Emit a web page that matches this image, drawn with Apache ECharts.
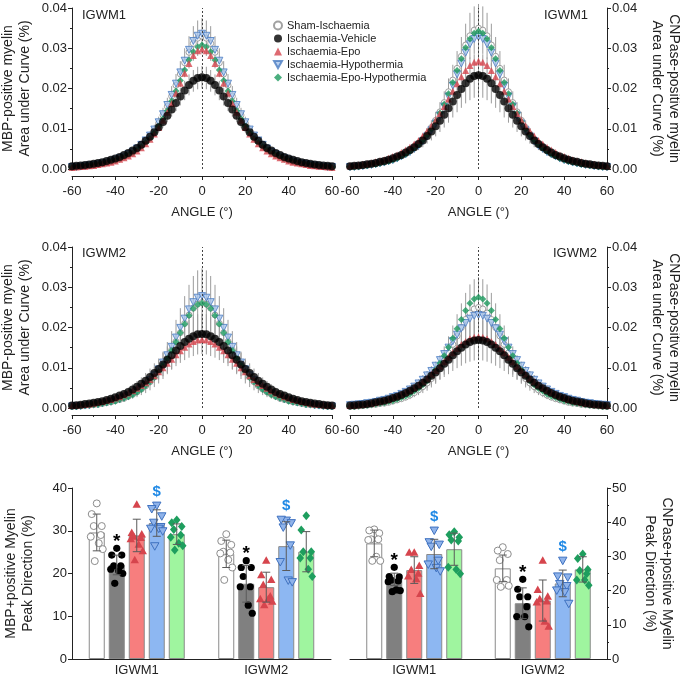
<!DOCTYPE html>
<html><head><meta charset="utf-8">
<script src="https://cdn.jsdelivr.net/npm/echarts/dist/echarts.min.js"></script>
<style>html,body{margin:0;padding:0;background:#fff}#c{width:680px;height:678px}</style>
</head><body><div id="c"></div>
<script>
// ---------- data ----------
const GROUPS = ['Sham-Ischaemia','Ischaemia-Vehicle','Ischaemia-Epo','Ischaemia-Hypothermia','Ischaemia-Epo-Hypothermia'];
const ANGLES = [-60,-58,-56,-54,-52,-50,-48,-46,-44,-42,-40,-38,-36,-34,-32,-30,-28,-26,-24,-22,-20,-18,-16,-14,-12,-10,-8,-6,-4,-2,0,2,4,6,8,10,12,14,16,18,20,22,24,26,28,30,32,34,36,38,40,42,44,46,48,50,52,54,56,58,60];

// MBP IGWM1
const MBP1_SHAM = [.0005,.0005,.0006,.0007,.0009,.0010,.0012,.0014,.0016,.0019,.0022,.0026,.0031,.0036,.0042,.0050,.0059,.0069,.0082,.0097,.0114,.0134,.0156,.0181,.0208,.0236,.0264,.0290,.0312,.0325,.0330,.0325,.0312,.0290,.0264,.0236,.0208,.0181,.0156,.0134,.0114,.0097,.0082,.0069,.0059,.0050,.0042,.0036,.0031,.0026,.0022,.0019,.0016,.0014,.0012,.0010,.0009,.0007,.0006,.0005,.0005];
const MBP1_VEH = [.0007,.0008,.0009,.0010,.0011,.0013,.0015,.0017,.0020,.0023,.0026,.0030,.0035,.0040,.0046,.0052,.0060,.0070,.0080,.0091,.0104,.0117,.0132,.0148,.0164,.0180,.0195,.0209,.0219,.0226,.0228,.0226,.0219,.0209,.0195,.0180,.0164,.0148,.0132,.0117,.0104,.0091,.0080,.0070,.0060,.0052,.0046,.0040,.0035,.0030,.0026,.0023,.0020,.0017,.0015,.0013,.0011,.0010,.0009,.0008,.0007];
const MBP1_EPO = [.0004,.0005,.0006,.0007,.0008,.0009,.0011,.0013,.0015,.0017,.0020,.0024,.0028,.0032,.0038,.0045,.0053,.0063,.0074,.0087,.0103,.0121,.0141,.0163,.0188,.0213,.0238,.0262,.0282,.0294,.0298,.0294,.0282,.0262,.0238,.0213,.0188,.0163,.0141,.0121,.0103,.0087,.0074,.0063,.0053,.0045,.0038,.0032,.0028,.0024,.0020,.0017,.0015,.0013,.0011,.0009,.0008,.0007,.0006,.0005,.0004];
const MBP1_HYPO = [.0005,.0005,.0006,.0007,.0009,.0010,.0012,.0014,.0016,.0019,.0023,.0027,.0031,.0037,.0043,.0051,.0060,.0071,.0083,.0098,.0116,.0136,.0159,.0184,.0212,.0240,.0269,.0296,.0318,.0331,.0336,.0331,.0318,.0296,.0269,.0240,.0212,.0184,.0159,.0136,.0116,.0098,.0083,.0071,.0060,.0051,.0043,.0037,.0031,.0027,.0023,.0019,.0016,.0014,.0012,.0010,.0009,.0007,.0006,.0005,.0005];
const MBP1_EH = [.0004,.0005,.0006,.0007,.0008,.0010,.0011,.0013,.0015,.0018,.0021,.0024,.0029,.0034,.0039,.0047,.0055,.0065,.0076,.0090,.0106,.0125,.0145,.0169,.0194,.0220,.0246,.0271,.0291,.0303,.0308,.0303,.0291,.0271,.0246,.0220,.0194,.0169,.0145,.0125,.0106,.0090,.0076,.0065,.0055,.0047,.0039,.0034,.0029,.0024,.0021,.0018,.0015,.0013,.0011,.0010,.0008,.0007,.0006,.0005,.0004];
const MBP1_SHAM_SD = [.0001,.0001,.0001,.0001,.0001,.0001,.0002,.0002,.0002,.0003,.0003,.0004,.0004,.0005,.0006,.0007,.0008,.0009,.0011,.0013,.0016,.0018,.0021,.0025,.0028,.0032,.0036,.0040,.0043,.0044,.0045,.0044,.0043,.0040,.0036,.0032,.0028,.0025,.0021,.0018,.0016,.0013,.0011,.0009,.0008,.0007,.0006,.0005,.0004,.0004,.0003,.0003,.0002,.0002,.0002,.0001,.0001,.0001,.0001,.0001,.0001];
const MBP1_VEH_SD = [.0001,.0001,.0001,.0001,.0001,.0002,.0002,.0002,.0002,.0003,.0003,.0004,.0004,.0005,.0006,.0006,.0007,.0009,.0010,.0011,.0013,.0014,.0016,.0018,.0020,.0022,.0024,.0026,.0027,.0028,.0028,.0028,.0027,.0026,.0024,.0022,.0020,.0018,.0016,.0014,.0013,.0011,.0010,.0009,.0007,.0006,.0006,.0005,.0004,.0004,.0003,.0003,.0002,.0002,.0002,.0002,.0001,.0001,.0001,.0001,.0001];

// CNPase IGWM1
const CNP1_SHAM = [.0005,.0006,.0007,.0008,.0009,.0011,.0013,.0015,.0017,.0020,.0023,.0028,.0033,.0038,.0045,.0053,.0062,.0074,.0087,.0103,.0121,.0142,.0165,.0192,.0221,.0250,.0280,.0308,.0331,.0345,.0350,.0345,.0331,.0308,.0280,.0250,.0221,.0192,.0165,.0142,.0121,.0103,.0087,.0074,.0062,.0053,.0045,.0038,.0033,.0028,.0023,.0020,.0017,.0015,.0013,.0011,.0009,.0008,.0007,.0006,.0005];
const CNP1_VEH = [.0007,.0008,.0009,.0010,.0012,.0013,.0015,.0018,.0020,.0023,.0027,.0031,.0035,.0041,.0047,.0054,.0062,.0071,.0082,.0093,.0106,.0120,.0135,.0151,.0168,.0184,.0199,.0213,.0224,.0231,.0233,.0231,.0224,.0213,.0199,.0184,.0168,.0151,.0135,.0120,.0106,.0093,.0082,.0071,.0062,.0054,.0047,.0041,.0035,.0031,.0027,.0023,.0020,.0018,.0015,.0013,.0012,.0010,.0009,.0008,.0007];
const CNP1_EPO = [.0008,.0009,.0010,.0012,.0013,.0015,.0018,.0020,.0023,.0027,.0031,.0035,.0041,.0047,.0054,.0062,.0071,.0082,.0094,.0107,.0122,.0138,.0155,.0174,.0193,.0212,.0229,.0245,.0257,.0265,.0268,.0265,.0257,.0245,.0229,.0212,.0193,.0174,.0155,.0138,.0122,.0107,.0094,.0082,.0071,.0062,.0054,.0047,.0041,.0035,.0031,.0027,.0023,.0020,.0018,.0015,.0013,.0012,.0010,.0009,.0008];
const CNP1_HYPO = [.0005,.0005,.0006,.0007,.0009,.0010,.0012,.0014,.0016,.0019,.0022,.0026,.0031,.0036,.0042,.0050,.0058,.0069,.0081,.0096,.0113,.0133,.0155,.0180,.0207,.0235,.0262,.0289,.0310,.0323,.0328,.0323,.0310,.0289,.0262,.0235,.0207,.0180,.0155,.0133,.0113,.0096,.0081,.0069,.0058,.0050,.0042,.0036,.0031,.0026,.0022,.0019,.0016,.0014,.0012,.0010,.0009,.0007,.0006,.0005,.0005];
const CNP1_EH = [.0005,.0005,.0006,.0008,.0009,.0011,.0012,.0014,.0017,.0019,.0023,.0027,.0032,.0037,.0044,.0052,.0061,.0072,.0085,.0100,.0118,.0139,.0161,.0187,.0215,.0245,.0274,.0301,.0323,.0337,.0342,.0337,.0323,.0301,.0274,.0245,.0215,.0187,.0161,.0139,.0118,.0100,.0085,.0072,.0061,.0052,.0044,.0037,.0032,.0027,.0023,.0019,.0017,.0014,.0012,.0011,.0009,.0008,.0006,.0005,.0005];
const CNP1_SHAM_SD = [.0001,.0001,.0001,.0001,.0002,.0002,.0002,.0003,.0003,.0003,.0004,.0005,.0006,.0007,.0008,.0009,.0011,.0013,.0015,.0018,.0021,.0024,.0028,.0033,.0038,.0043,.0048,.0053,.0057,.0059,.0060,.0059,.0057,.0053,.0048,.0043,.0038,.0033,.0028,.0024,.0021,.0018,.0015,.0013,.0011,.0009,.0008,.0007,.0006,.0005,.0004,.0003,.0003,.0003,.0002,.0002,.0002,.0001,.0001,.0001,.0001];
const CNP1_VEH_SD = [.0002,.0002,.0002,.0002,.0003,.0003,.0004,.0004,.0005,.0006,.0006,.0007,.0008,.0010,.0011,.0013,.0015,.0017,.0019,.0022,.0025,.0028,.0032,.0036,.0040,.0043,.0047,.0050,.0053,.0054,.0055,.0054,.0053,.0050,.0047,.0043,.0040,.0036,.0032,.0028,.0025,.0022,.0019,.0017,.0015,.0013,.0011,.0010,.0008,.0007,.0006,.0006,.0005,.0004,.0004,.0003,.0003,.0002,.0002,.0002,.0002];

// MBP IGWM2
const MBP2_SHAM = [.0004,.0004,.0005,.0006,.0007,.0008,.0009,.0011,.0013,.0015,.0018,.0021,.0024,.0029,.0034,.0040,.0047,.0055,.0065,.0077,.0090,.0106,.0124,.0144,.0165,.0187,.0210,.0231,.0248,.0258,.0262,.0258,.0248,.0231,.0210,.0187,.0165,.0144,.0124,.0106,.0090,.0077,.0065,.0055,.0047,.0040,.0034,.0029,.0024,.0021,.0018,.0015,.0013,.0011,.0009,.0008,.0007,.0006,.0005,.0004,.0004];
const MBP2_VEH = [.0006,.0007,.0008,.0010,.0011,.0013,.0015,.0017,.0020,.0023,.0027,.0031,.0035,.0040,.0046,.0053,.0060,.0068,.0077,.0087,.0097,.0108,.0120,.0131,.0143,.0154,.0164,.0172,.0178,.0183,.0184,.0183,.0178,.0172,.0164,.0154,.0143,.0131,.0120,.0108,.0097,.0087,.0077,.0068,.0060,.0053,.0046,.0040,.0035,.0031,.0027,.0023,.0020,.0017,.0015,.0013,.0011,.0010,.0008,.0007,.0006];
const MBP2_EPO = [.0006,.0007,.0008,.0009,.0010,.0012,.0014,.0016,.0019,.0021,.0025,.0028,.0033,.0037,.0043,.0049,.0056,.0063,.0071,.0080,.0090,.0100,.0111,.0121,.0132,.0142,.0151,.0159,.0165,.0169,.0170,.0169,.0165,.0159,.0151,.0142,.0132,.0121,.0111,.0100,.0090,.0080,.0071,.0063,.0056,.0049,.0043,.0037,.0033,.0028,.0025,.0021,.0019,.0016,.0014,.0012,.0010,.0009,.0008,.0007,.0006];
const MBP2_HYPO = [.0004,.0004,.0005,.0006,.0007,.0009,.0010,.0012,.0014,.0016,.0019,.0022,.0026,.0030,.0036,.0042,.0049,.0058,.0069,.0081,.0096,.0113,.0131,.0152,.0175,.0199,.0222,.0245,.0263,.0274,.0278,.0274,.0263,.0245,.0222,.0199,.0175,.0152,.0131,.0113,.0096,.0081,.0069,.0058,.0049,.0042,.0036,.0030,.0026,.0022,.0019,.0016,.0014,.0012,.0010,.0009,.0007,.0006,.0005,.0004,.0004];
const MBP2_EH = [.0004,.0004,.0005,.0006,.0007,.0008,.0009,.0011,.0013,.0015,.0017,.0021,.0024,.0028,.0033,.0039,.0046,.0055,.0065,.0076,.0090,.0106,.0123,.0143,.0164,.0187,.0209,.0230,.0247,.0257,.0261,.0257,.0247,.0230,.0209,.0187,.0164,.0143,.0123,.0106,.0090,.0076,.0065,.0055,.0046,.0039,.0033,.0028,.0024,.0021,.0017,.0015,.0013,.0011,.0009,.0008,.0007,.0006,.0005,.0004,.0004];
const MBP2_SHAM_SD = [.0001,.0001,.0002,.0002,.0002,.0003,.0003,.0004,.0004,.0005,.0006,.0007,.0008,.0009,.0011,.0013,.0015,.0018,.0021,.0025,.0029,.0034,.0040,.0047,.0054,.0061,.0068,.0075,.0080,.0084,.0085,.0084,.0080,.0075,.0068,.0061,.0054,.0047,.0040,.0034,.0029,.0025,.0021,.0018,.0015,.0013,.0011,.0009,.0008,.0007,.0006,.0005,.0004,.0004,.0003,.0003,.0002,.0002,.0002,.0001,.0001];
const MBP2_VEH_SD = [.0002,.0002,.0002,.0003,.0003,.0004,.0004,.0005,.0005,.0006,.0007,.0008,.0010,.0011,.0013,.0014,.0016,.0019,.0021,.0024,.0026,.0029,.0033,.0036,.0039,.0042,.0045,.0047,.0049,.0050,.0050,.0050,.0049,.0047,.0045,.0042,.0039,.0036,.0033,.0029,.0026,.0024,.0021,.0019,.0016,.0014,.0013,.0011,.0010,.0008,.0007,.0006,.0005,.0005,.0004,.0004,.0003,.0003,.0002,.0002,.0002];

// CNPase IGWM2
const CNP2_SHAM = [.0004,.0004,.0005,.0006,.0007,.0008,.0009,.0011,.0012,.0014,.0017,.0020,.0023,.0027,.0032,.0038,.0045,.0053,.0062,.0073,.0086,.0101,.0118,.0137,.0158,.0179,.0200,.0220,.0236,.0246,.0250,.0246,.0236,.0220,.0200,.0179,.0158,.0137,.0118,.0101,.0086,.0073,.0062,.0053,.0045,.0038,.0032,.0027,.0023,.0020,.0017,.0014,.0012,.0011,.0009,.0008,.0007,.0006,.0005,.0004,.0004];
const CNP2_VEH = [.0006,.0007,.0008,.0009,.0010,.0012,.0014,.0016,.0018,.0021,.0025,.0028,.0032,.0037,.0043,.0049,.0055,.0063,.0071,.0080,.0089,.0099,.0110,.0120,.0131,.0141,.0150,.0158,.0164,.0168,.0169,.0168,.0164,.0158,.0150,.0141,.0131,.0120,.0110,.0099,.0089,.0080,.0071,.0063,.0055,.0049,.0043,.0037,.0032,.0028,.0025,.0021,.0018,.0016,.0014,.0012,.0010,.0009,.0008,.0007,.0006];
const CNP2_EPO = [.0006,.0007,.0008,.0009,.0011,.0012,.0014,.0017,.0019,.0022,.0026,.0030,.0034,.0039,.0045,.0051,.0058,.0066,.0074,.0084,.0093,.0104,.0115,.0126,.0137,.0148,.0158,.0165,.0172,.0176,.0177,.0176,.0172,.0165,.0158,.0148,.0137,.0126,.0115,.0104,.0093,.0084,.0074,.0066,.0058,.0051,.0045,.0039,.0034,.0030,.0026,.0022,.0019,.0017,.0014,.0012,.0011,.0009,.0008,.0007,.0006];
const CNP2_HYPO = [.0007,.0008,.0009,.0010,.0012,.0013,.0015,.0018,.0020,.0023,.0027,.0030,.0035,.0040,.0046,.0053,.0061,.0070,.0081,.0092,.0105,.0119,.0134,.0150,.0166,.0182,.0198,.0211,.0222,.0229,.0231,.0229,.0222,.0211,.0198,.0182,.0166,.0150,.0134,.0119,.0105,.0092,.0081,.0070,.0061,.0053,.0046,.0040,.0035,.0030,.0027,.0023,.0020,.0018,.0015,.0013,.0012,.0010,.0009,.0008,.0007];
const CNP2_EH = [.0004,.0004,.0005,.0006,.0007,.0009,.0010,.0012,.0013,.0016,.0018,.0022,.0026,.0030,.0035,.0042,.0049,.0058,.0068,.0081,.0095,.0111,.0130,.0151,.0173,.0197,.0220,.0242,.0260,.0271,.0275,.0271,.0260,.0242,.0220,.0197,.0173,.0151,.0130,.0111,.0095,.0081,.0068,.0058,.0049,.0042,.0035,.0030,.0026,.0022,.0018,.0016,.0013,.0012,.0010,.0009,.0007,.0006,.0005,.0004,.0004];
const CNP2_SHAM_SD = [.0001,.0001,.0001,.0002,.0002,.0002,.0003,.0003,.0004,.0004,.0005,.0006,.0007,.0008,.0010,.0011,.0013,.0016,.0019,.0022,.0026,.0030,.0035,.0041,.0047,.0054,.0060,.0066,.0071,.0074,.0075,.0074,.0071,.0066,.0060,.0054,.0047,.0041,.0035,.0030,.0026,.0022,.0019,.0016,.0013,.0011,.0010,.0008,.0007,.0006,.0005,.0004,.0004,.0003,.0003,.0002,.0002,.0002,.0001,.0001,.0001];
const CNP2_VEH_SD = [.0002,.0002,.0002,.0003,.0003,.0004,.0004,.0005,.0005,.0006,.0007,.0008,.0010,.0011,.0013,.0014,.0016,.0019,.0021,.0024,.0026,.0029,.0033,.0036,.0039,.0042,.0045,.0047,.0049,.0050,.0050,.0050,.0049,.0047,.0045,.0042,.0039,.0036,.0033,.0029,.0026,.0024,.0021,.0019,.0016,.0014,.0013,.0011,.0010,.0008,.0007,.0006,.0005,.0005,.0004,.0004,.0003,.0003,.0002,.0002,.0002];

// Peak direction bar charts
const CATS = ['IGWM1','IGWM2'];
const MBP_MEAN_W1 = [29.6, 22.0, 28.9, 31.8, 29.2];
const MBP_SD_W1   = [4.3, 2.3, 3.8, 3.1, 2.4];
const MBP_MEAN_W2 = [24.6, 17.6, 16.8, 26.4, 25.1];
const MBP_SD_W2   = [3.2, 4.3, 3.5, 5.7, 4.7];
const CNP_MEAN_W1 = [33.8, 23.3, 26.0, 30.7, 32.1];
const CNP_SD_W1   = [3.9, 1.8, 3.9, 4.3, 4.7];
const CNP_MEAN_W2 = [26.5, 16.3, 17.1, 22.1, 26.2];
const CNP_SD_W2   = [3.9, 4.5, 6.0, 3.9, 3.7];

const MBP_PTS_W1 = [
  [36.4, 33.9, 31.1, 31.1, 29.0, 28.6, 27.1, 25.7, 22.9],
  [25.9, 24.3, 24.3, 21.8, 21.8, 21.0, 20.6, 20.0, 17.7],
  [36.1, 29.5, 29.1, 28.6, 28.3, 28.0, 26.7, 25.2, 23.1],
  [36.0, 35.2, 33.5, 32.0, 31.0, 30.6, 30.6, 30.0, 26.5],
  [32.5, 31.9, 31.0, 30.3, 29.0, 28.5, 27.1, 26.5, 25.5]
];
const MBP_PTS_W2 = [
  [29.2, 27.6, 26.7, 25.1, 24.9, 24.7, 23.2, 21.4, 18.5],
  [23.0, 21.4, 21.4, 19.3, 16.9, 16.9, 12.6, 10.7],
  [23.0, 19.6, 18.5, 17.3, 14.6, 14.0, 14.0, 13.4, 12.6],
  [32.5, 32.7, 31.9, 30.9, 26.7, 22.8, 18.5, 18.1],
  [33.5, 30.2, 25.1, 25.1, 23.6, 23.6, 21.0, 19.3]
];
const CNP_PTS_W1 = [
  [37.9, 37.6, 36.8, 35.0, 35.0, 34.8, 29.9, 28.7, 28.7],
  [26.8, 24.1, 24.0, 23.1, 22.8, 22.6, 20.2, 20.0, 19.7],
  [31.1, 31.1, 27.2, 26.0, 24.9, 24.1, 23.3, 19.0],
  [37.7, 34.3, 33.6, 33.0, 28.9, 27.8, 26.8, 25.8],
  [37.2, 36.3, 35.6, 34.8, 34.5, 26.8, 26.2, 24.9]
];
const CNP_PTS_W2 = [
  [32.7, 31.7, 30.7, 28.9, 23.1, 23.1, 21.8, 21.4, 21.1],
  [23.3, 20.4, 18.2, 18.2, 15.3, 12.4, 12.4, 9.4],
  [28.7, 20.2, 18.2, 17.5, 16.8, 16.5, 10.9, 9.4],
  [28.9, 24.3, 24.0, 22.1, 21.5, 20.2, 19.7, 16.3],
  [30.7, 29.4, 26.2, 25.9, 24.9, 23.1, 23.1, 21.6]
];

// ---------- styling ----------
const SANS = "'Liberation Sans',Arial,sans-serif";
const AX = '#222';
const TICK_FONT = 13;
const BAR_STEP = 20;
const JIT = [0, -5, 5, -3, 4, -6, 2, 6, -2];

const GRIDS = [
  {left:72, top:8, width:260, height:161},
  {left:350, top:8, width:257, height:161},
  {left:72, top:247, width:260, height:161},
  {left:350, top:247, width:257, height:161},
  {left:72, top:488, width:259, height:171},
  {left:350, top:488, width:257, height:171}
].map(g => Object.assign({containLabel:false, outerBoundsMode:'none'}, g));

const CURVE_STYLE = [
  {symbol:'circle', symbolSize:6, itemStyle:{color:'#ffffff', borderColor:'#8a8a8a', borderWidth:1}},
  {symbol:'circle', symbolSize:8, itemStyle:{color:'#000000'}},
  {symbol:'triangle', symbolSize:7, itemStyle:{color:'#d6454d'}},
  {symbol:'triangle', symbolRotate:180, symbolSize:7, itemStyle:{color:'#a9c5ec', borderColor:'#4a7cc2', borderWidth:1}},
  {symbol:'diamond', symbolSize:7, itemStyle:{color:'#1d9a5e'}}
];
const BAR_FILL = ['#ffffff','#808080','#f77e7e','#8db7f2','#9ff59f'];
const DOWN_TRI = 'path://M0,0 L10,0 L5,9 Z';

function curveX(gi){
  return {type:'value', gridIndex:gi, min:-60, max:60, interval:20, offset:7,
    axisLine:{show:true, onZero:false, lineStyle:{color:AX, width:1}},
    axisTick:{show:true, length:4, lineStyle:{color:AX}},
    minorTick:{show:true, splitNumber:2, length:2, lineStyle:{color:AX}},
    splitLine:{show:false}, minorSplitLine:{show:false},
    axisLabel:{color:AX, fontFamily:SANS, fontSize:TICK_FONT, margin:9, showMinLabel:true, showMaxLabel:true},
    name:'ANGLE (°)', nameLocation:'middle', nameGap:30,
    nameTextStyle:{fontFamily:SANS, fontSize:13, color:AX}};
}
function curveY(gi, right, name){
  return {type:'value', gridIndex:gi, position: right ? 'right' : 'left', min:0, max:0.04, interval:0.01,
    axisLine:{show:true, onZero:false, lineStyle:{color:AX, width:1}},
    axisTick:{show:true, length:4, lineStyle:{color:AX}},
    minorTick:{show:true, splitNumber:2, length:2, lineStyle:{color:AX}},
    splitLine:{show:false}, minorSplitLine:{show:false},
    axisLabel:{color:AX, fontFamily:SANS, fontSize:TICK_FONT, margin:5, formatter: v => v.toFixed(2)},
    name: name, nameLocation:'middle', nameGap: right ? 41 : 38, nameRotate: right ? -90 : 90,
    nameTextStyle:{fontFamily:SANS, fontSize:14, lineHeight:17, color:AX}};
}
function barX(gi){
  return {type:'category', gridIndex:gi, data:CATS,
    axisLine:{show:true, lineStyle:{color:AX, width:1}},
    axisTick:{show:false}, splitLine:{show:false},
    axisLabel:{color:AX, fontFamily:SANS, fontSize:TICK_FONT, margin:5}};
}
function barY(gi, right, max, name, minor){
  return {type:'value', gridIndex:gi, position: right ? 'right' : 'left', min:0, max:max, interval:10,
    axisLine:{show:true, lineStyle:{color:AX, width:1}},
    axisTick:{show:true, length:4, lineStyle:{color:AX}},
    minorTick:{show:minor, splitNumber:2, length:2, lineStyle:{color:AX}},
    splitLine:{show:false}, minorSplitLine:{show:false},
    axisLabel:{color:AX, fontFamily:SANS, fontSize:TICK_FONT, margin:5},
    name:name, nameLocation:'middle', nameGap: right ? 34 : 35, nameRotate: right ? -90 : 90,
    nameTextStyle:{fontFamily:SANS, fontSize:14, lineHeight:17, color:AX}};
}

function errRender(params, api){
  const x = api.value(0), y = api.value(1), s = api.value(2);
  const p1 = api.coord([x, y + s]), p2 = api.coord([x, y - s]);
  return {type:'line', shape:{x1:p1[0], y1:p1[1], x2:p2[0], y2:p2[1]},
    style:{stroke:'#9c9c9c', lineWidth:1}};
}

function curvePanel(gi, vals, sds){
  const out = [];
  [0, 1].forEach(k => {
    out.push({type:'custom', xAxisIndex:gi, yAxisIndex:gi, renderItem:errRender, silent:true, clip:false, z:2,
      data: ANGLES.map((a, i) => [a, vals[k][i], sds[k][i]])});
  });
  [0, 3, 4, 2, 1].forEach((k, idx) => {
    const s = Object.assign({type:'scatter', name:GROUPS[k], xAxisIndex:gi, yAxisIndex:gi, z:3 + idx, silent:true,
      data: ANGLES.map((a, i) => [a, vals[k][i]])}, JSON.parse(JSON.stringify(CURVE_STYLE[k])));
    if (idx === 0) {
      s.markLine = {silent:true, symbol:'none', label:{show:false}, animation:false,
        lineStyle:{type:[2, 2], color:'#444', width:1}, data:[{xAxis:0}]};
    }
    out.push(s);
  });
  return out;
}

function markerEl(k, x, y){
  switch (k) {
    case 0: return {type:'circle', shape:{cx:x, cy:y, r:3.5}, style:{fill:'#fff', stroke:'#8c8c8c', lineWidth:1}};
    case 1: return {type:'circle', shape:{cx:x, cy:y, r:3.6}, style:{fill:'#000'}};
    case 2: return {type:'polygon', shape:{points:[[x, y - 4.5], [x + 4.2, y + 3], [x - 4.2, y + 3]]}, style:{fill:'#d6454d'}};
    case 3: return {type:'polygon', shape:{points:[[x, y + 4.5], [x + 4.2, y - 3], [x - 4.2, y - 3]]}, style:{fill:'#8fb3ea', stroke:'#3e71c0', lineWidth:1}};
    default: return {type:'polygon', shape:{points:[[x, y - 4.5], [x + 3.8, y], [x, y + 4.5], [x - 3.8, y]]}, style:{fill:'#1e9e5e'}};
  }
}

function barPanel(gi, m1, s1, m2, s2, p1, p2){
  const out = [];
  for (let k = 0; k < 5; k++) {
    out.push({type:'bar', xAxisIndex:gi, yAxisIndex:gi, name:'bar' + gi + '_' + k, data:[m1[k], m2[k]],
      barWidth:16, barGap:'25%', silent:true, z:2,
      itemStyle:{color:BAR_FILL[k], borderColor:'#8a8a8a', borderWidth:1}});
  }
  for (let k = 0; k < 5; k++) {
    const pts = p1[k].map((v, j) => [0, v, j]).concat(p2[k].map((v, j) => [1, v, j]));
    out.push({type:'custom', xAxisIndex:gi, yAxisIndex:gi, name:'pts' + gi + '_' + k, silent:true, clip:false, z:4,
      data: pts,
      renderItem: (params, api) => {
        const p = api.coord([api.value(0), api.value(1)]);
        const j = api.value(2);
        return markerEl(k, p[0] + (k - 2) * BAR_STEP + JIT[j % JIT.length], p[1]);
      }});
    out.push({type:'custom', xAxisIndex:gi, yAxisIndex:gi, name:'err' + gi + '_' + k, silent:true, clip:false, z:5,
      data: [[0, m1[k], s1[k]], [1, m2[k], s2[k]]],
      renderItem: (params, api) => {
        const c = api.value(0), m = api.value(1), s = api.value(2);
        const t = api.coord([c, m + s]), b = api.coord([c, m - s]);
        const x = t[0] + (k - 2) * BAR_STEP;
        const st = {stroke:'#5a5a5a', lineWidth:1};
        return {type:'group', children:[
          {type:'line', shape:{x1:x, y1:t[1], x2:x, y2:b[1]}, style:st},
          {type:'line', shape:{x1:x - 4, y1:t[1], x2:x + 4, y2:t[1]}, style:st},
          {type:'line', shape:{x1:x - 4, y1:b[1], x2:x + 4, y2:b[1]}, style:st}
        ]};
      }});
  }
  [[1, '*', '#000', 'bold 19px ' + SANS, 7], [3, '$', '#1e88e5', 'bold 15px ' + SANS, 13]].forEach(([k, txt, col, font, dy]) => {
    out.push({type:'custom', xAxisIndex:gi, yAxisIndex:gi, name:'sig' + gi + '_' + k, silent:true, clip:false, z:6,
      data: [[0, Math.max(...p1[k])], [1, Math.max(...p2[k])]],
      renderItem: (params, api) => {
        const p = api.coord([api.value(0), api.value(1)]);
        return {type:'text', x: p[0] + (k - 2) * BAR_STEP, y: p[1] - dy,
          style:{text:txt, fill:col, font:font, textAlign:'center', textVerticalAlign:'middle'}};
      }});
  });
  return out;
}

const MBP_CURVE_NAME = 'MBP-positive myelin\nArea under Curve (%)';
const CNP_CURVE_NAME = 'CNPase-positive myelin\nArea under Curve (%)';

const option = {
  animation:false,
  backgroundColor:'#ffffff',
  grid: GRIDS,
  legend: {
    data: GROUPS.map((g, k) => k === 3 ? {name:g, icon:DOWN_TRI} : {name:g}),
    orient:'vertical', left:273, top:20, itemWidth:8, itemHeight:8, itemGap:2, padding:0,
    selectedMode:false, textStyle:{fontFamily:SANS, fontSize:11, color:'#222', lineHeight:9}},
  xAxis: [curveX(0), curveX(1), curveX(2), curveX(3), barX(4), barX(5)],
  yAxis: [
    curveY(0, false, MBP_CURVE_NAME), curveY(1, true, CNP_CURVE_NAME),
    curveY(2, false, MBP_CURVE_NAME), curveY(3, true, CNP_CURVE_NAME),
    barY(4, false, 40, 'MBP+positive Myelin\nPeak Direction (%)', false),
    barY(5, true, 50, 'CNPase+positive Myelin\nPeak Direction (%)', true)
  ],
  graphic: [
    {type:'text', left:82, top:9, style:{text:'IGWM1', font:'13px ' + SANS, fill:AX}},
    {type:'text', right:92, top:9, style:{text:'IGWM1', font:'13px ' + SANS, fill:AX}},
    {type:'text', left:82, top:247, style:{text:'IGWM2', font:'13px ' + SANS, fill:AX}},
    {type:'text', right:83, top:247, style:{text:'IGWM2', font:'13px ' + SANS, fill:AX}}
  ],
  series: [].concat(
    curvePanel(0, [MBP1_SHAM, MBP1_VEH, MBP1_EPO, MBP1_HYPO, MBP1_EH], [MBP1_SHAM_SD, MBP1_VEH_SD]),
    curvePanel(1, [CNP1_SHAM, CNP1_VEH, CNP1_EPO, CNP1_HYPO, CNP1_EH], [CNP1_SHAM_SD, CNP1_VEH_SD]),
    curvePanel(2, [MBP2_SHAM, MBP2_VEH, MBP2_EPO, MBP2_HYPO, MBP2_EH], [MBP2_SHAM_SD, MBP2_VEH_SD]),
    curvePanel(3, [CNP2_SHAM, CNP2_VEH, CNP2_EPO, CNP2_HYPO, CNP2_EH], [CNP2_SHAM_SD, CNP2_VEH_SD]),
    barPanel(4, MBP_MEAN_W1, MBP_SD_W1, MBP_MEAN_W2, MBP_SD_W2, MBP_PTS_W1, MBP_PTS_W2),
    barPanel(5, CNP_MEAN_W1, CNP_SD_W1, CNP_MEAN_W2, CNP_SD_W2, CNP_PTS_W1, CNP_PTS_W2)
  )
};

const chart = echarts.init(document.getElementById('c'), null, {renderer:'canvas', width:680, height:678});
chart.setOption(option);
</script>
</body></html>
